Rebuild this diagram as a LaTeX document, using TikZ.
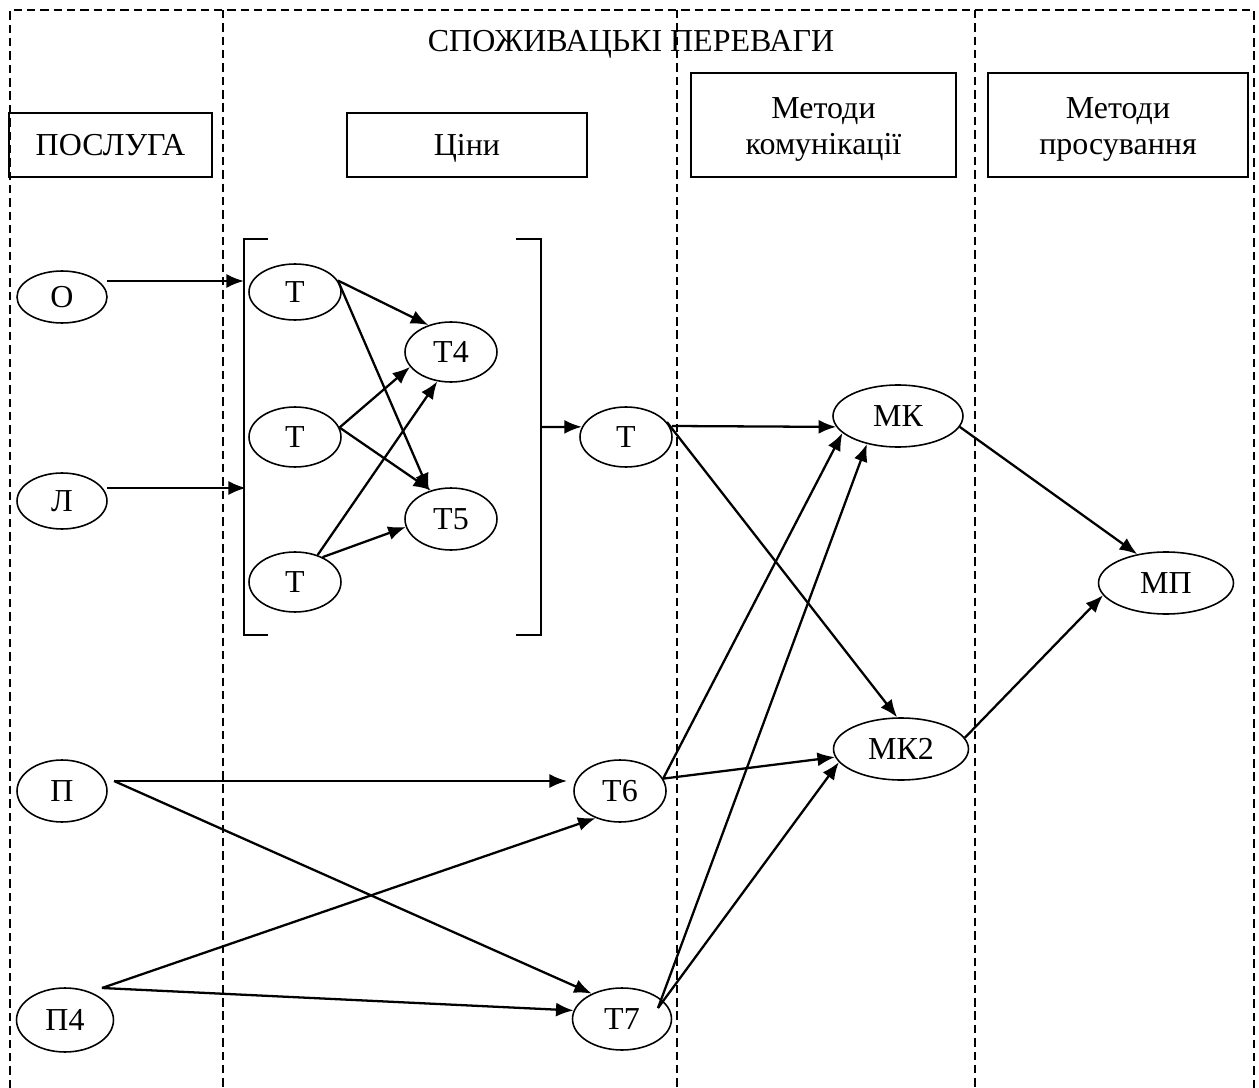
\documentclass[tikz,border=0pt]{standalone}
\usepackage{fontspec}
\setmainfont{Liberation Serif}
\usetikzlibrary{shapes.geometric,arrows.meta,calc}
\begin{document}
\begin{tikzpicture}[x=0.02cm,y=-0.02cm,
  every node/.style={font=\fontsize{18.2}{20.5}\selectfont},
  lane/.style={line width=0.75pt, dash pattern=on 4.8pt off 2.8pt},
  box/.style={draw, line width=0.9pt, rectangle, inner sep=0pt, align=center},
  capbox/.style={box, text height=12pt, text depth=0pt},
  ell/.style={draw, ellipse, line width=0.9pt, inner sep=0pt,
              minimum width=1.84cm, minimum height=1.2cm},
  wide/.style={minimum width=2.7cm, minimum height=1.24cm},
  arr/.style={line width=1.3pt, -{Latex[length=10pt,width=8pt]}},
  brk/.style={line width=0.9pt}]
\useasboundingbox (0,0) rectangle (1259,1088);

% dashed column frame
\draw[lane] (10,1088) -- (10,10) -- (1254,10) -- (1254,1088);
\foreach \x in {223,677,975} \draw[lane] (\x,10) -- (\x,1088);

% headings
\node[anchor=base, inner sep=0pt] (title) at (631,52) {СПОЖИВАЦЬКІ ПЕРЕВАГИ};
\node[capbox, minimum width=4.06cm, minimum height=1.28cm] (svc) at (110.5,145) {ПОСЛУГА};
\node[capbox, minimum width=4.8cm, minimum height=1.28cm] (price) at (467,145) {Ціни};
\node[box, minimum width=5.3cm, minimum height=2.08cm] (comm) at (823.5,125) {};
\node[align=center, inner sep=0pt] (commtxt) at (823.5,129) {Методи\\комунікації};
\node[box, minimum width=5.2cm, minimum height=2.08cm] (prom) at (1118,125) {};
\node[align=center, inner sep=0pt] (promtxt) at (1118,129) {Методи\\просування};

% service nodes
\node[ell, minimum width=1.8cm, minimum height=1.04cm] (O) at (62,297) {О};
\node[ell, minimum width=1.8cm, minimum height=1.12cm] (L) at (62,501) {Л};
\node[ell, minimum width=1.8cm, minimum height=1.24cm] (P) at (62,791) {П};
\node[ell, minimum width=1.94cm, minimum height=1.28cm] (P4) at (65,1020) {П4};

% price group
\node[ell, minimum height=1.12cm] (Ta) at (295,292) {Т};
\node[ell] (Tb) at (295,437) {Т};
\node[ell] (Tc) at (295,582) {Т};
\node[ell] (T4) at (451,352) {Т4};
\node[ell, minimum height=1.24cm] (T5) at (451,519) {Т5};
\draw[brk] (268,239) -- (244,239) -- (244,635) -- (268,635);
\draw[brk] (516,239) -- (541,239) -- (541,635) -- (516,635);
\coordinate (inO) at (244,281);
\coordinate (inL) at (246,488);
\coordinate (outB) at (541,427);

\node[ell] (Tout) at (626,437) {Т};
\node[ell, minimum height=1.24cm] (T6) at (620,791) {Т6};
\node[ell, minimum width=1.98cm, minimum height=1.24cm] (T7) at (622,1019) {Т7};

% communication and promotion
\node[ell, wide, minimum width=2.6cm] (MK) at (898,416) {МК};
\node[ell, wide] (MK2) at (901,749) {МК2};
\node[ell, wide] (MP) at (1166,583) {МП};

% connectors
\draw[arr] ($(O.center)+(45,-16)$) -- (inO);
\draw[arr] ($(L.center)+(45,-13)$) -- (inL);
\draw[arr] (outB) -- (Tout.167);

\draw[arr] (Ta.15) -- (T4.130);
\draw[arr] (Ta.15) -- (T5.128);
\draw[arr] (Tb.12) -- (T4.200);
\draw[arr] (Tb.12) -- (T5.125);
\draw[arr] (Tc.50) -- (T4.245);
\draw[arr] (Tc.42) -- (T5.190);

\draw[arr] ($(Tout.center)+(46,-11)$) -- (MK.190);
\draw[arr] (Tout.20) -- (MK2.97);
\draw[arr] (T6.16) -- (MK.197);
\draw[arr] (T6.16) -- (MK2.187);
\draw[arr] ($(T7.center)+(36,-11)$) -- (MK.222);
\draw[arr] ($(T7.center)+(36,-11)$) -- (MK2.192);

\draw[arr] (MK.350) -- (MP.135);
\draw[arr] (MK2.10) -- (MP.191);

\draw[arr] ($(P.center)+(52,-10)$) -- ($(T6.center)+(-53,-10)$);
\draw[arr] ($(P.center)+(52,-10)$) -- (T7.140);
\draw[arr] ($(P4.center)+(37,-32)$) -- (T6.228);
\draw[arr] ($(P4.center)+(37,-32)$) -- (T7.170);
\end{tikzpicture}
\end{document}
